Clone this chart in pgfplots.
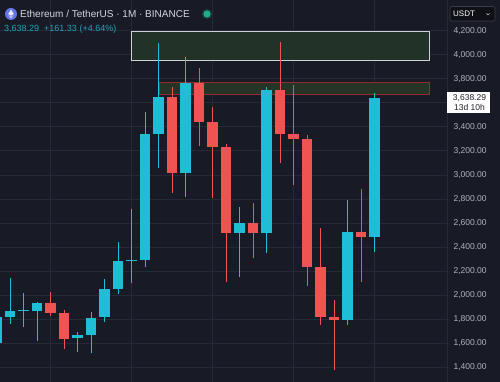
\documentclass[border=0pt]{standalone}
\usepackage{pgfplots}
\usepackage{pgfplotstable}
\pgfplotsset{compat=1.18}
\usepackage{fontspec}
\setmainfont{Liberation Sans}
\definecolor{bg}{RGB}{24,27,37}
\definecolor{gridc}{RGB}{38,42,54}
\definecolor{upc}{RGB}{32,190,214}
\definecolor{dnc}{RGB}{240,84,82}
\definecolor{txt}{RGB}{176,179,189}
\definecolor{titlec}{RGB}{212,214,222}
\definecolor{pricec}{RGB}{38,160,185}
\definecolor{gboxfill}{RGB}{34,50,40}
\definecolor{gboxline}{RGB}{205,208,212}
\definecolor{rboxfill}{RGB}{38,52,40}
\definecolor{rboxline}{RGB}{150,42,48}
\definecolor{labtxt}{RGB}{30,32,40}

\pgfplotstableread{
i o h l c
0 1604 1850 1590 1820
1 1818 2142 1760 1870
2 1866 2020 1737 1874
3 1870 1945 1621 1932
6 1643 1696 1529 1666
7 1668 1862 1516 1812
8 1815 2132 1779 2048
9 2048 2444 2010 2284
10 2282 2716 2098 2290
11 2290 3526 2236 3340
12 3340 4095 3055 3646
14 3014 3984 2819 3762
18 2514 2731 2148 2603
20 2520 3734 2353 3707
26 1793 2791 1751 2528
28 2482 3684 2361 3638.29
}\upcandles

\pgfplotstableread{
i o h l c
4 1932 2028 1826 1854
5 1854 1876 1549 1637
13 3648 3734 2847 3014
15 3762 3887 3243 3438
16 3438 3568 2806 3235
17 3235 3260 2112 2514
19 2603 2769 2306 2514
21 3707 4108 3097 3338
22 3338 3748 2916 3301
23 3301 3330 2076 2236
24 2236 2556 1751 1820
25 1820 1959 1377 1793
27 2528 2880 2112 2481
}\dncandles

\begin{document}
\begin{tikzpicture}
\fill[bg] (0,0) rectangle (500pt,382pt);
\begin{axis}[at={(0pt,0pt)}, anchor=south west, scale only axis,
  width=447pt, height=382pt,
  xmin=0.259, xmax=33.37, ymin=1277, ymax=4455,
  axis line style={draw=none},
  xtick={4,10,16,22,28}, xticklabels={},
  ytick={1400,1600,1800,2000,2200,2400,2600,2800,3000,3200,3400,3800,4000,4200},
  extra y ticks={3600}, extra y tick labels={},
  yticklabel pos=right,
  major tick length=0pt,
  grid=major, grid style={gridc, line width=0.7pt},
  extra tick style={grid=major, grid style={gridc, line width=0.7pt}},
  yticklabel style={anchor=west, xshift=3pt, font=\fontsize{8.5}{10}\selectfont, text=txt},
  /pgf/number format/.cd, fixed, fixed zerofill, precision=2, 1000 sep={,}, assume math mode=true,
]
% zones
\draw[fill=gboxfill, draw=gboxline, line width=0.9pt] (axis cs:10.01,3948) rectangle (axis cs:32.06,4197);
\draw[fill=rboxfill, draw=rboxline, line width=0.9pt] (axis cs:12.06,3671) rectangle (axis cs:32.06,3771);
% wicks
\addplot[draw=upc, line width=0.9pt, mark=none, quiver={u=0, v=\thisrow{h}-\thisrow{l}}]
  table[x=i, y=l] {\upcandles};
\addplot[draw=dnc, line width=0.9pt, mark=none, quiver={u=0, v=\thisrow{h}-\thisrow{l}}]
  table[x=i, y=l] {\dncandles};
% bodies
\addplot[draw=upc, line width=10.5pt, mark=none, quiver={u=0, v=\thisrow{c}-\thisrow{o}}]
  table[x=i, y=o] {\upcandles};
\addplot[draw=dnc, line width=10.5pt, mark=none, quiver={u=0, v=\thisrow{c}-\thisrow{o}}]
  table[x=i, y=o] {\dncandles};
\end{axis}
% header
\fill[color={rgb,255:red,98;green,118;blue,230}] (11pt,368pt) circle (6pt);
\fill[white, opacity=0.85] (11pt,372.5pt) -- (13.8pt,368pt) -- (11pt,366.3pt) -- (8.2pt,368pt) -- cycle;
\fill[white, opacity=0.6] (11pt,365.4pt) -- (13.8pt,367pt) -- (11pt,363.3pt) -- (8.2pt,367pt) -- cycle;
\node[anchor=base west, inner sep=0pt, text=titlec, font=\fontsize{10}{12}\selectfont] at (20pt,364.5pt) {Ethereum / TetherUS · 1M · BINANCE};
\fill[color={rgb,255:red,20;green,70;blue,60}] (207pt,368pt) circle (5pt);
\fill[color={rgb,255:red,34;green,170;blue,140}] (207pt,368pt) circle (3.5pt);
\node[anchor=base west, inner sep=0pt, text=pricec, font=\fontsize{9}{11}\selectfont] at (4pt,350.5pt) {3,638.29 \ +161.33 (+4.64\%)};
% price axis
\draw[gridc, line width=0.6pt] (447pt,0pt) -- (447pt,382pt);
\fill[color={rgb,255:red,14;green,16;blue,22}, draw={rgb,255:red,60;green,63;blue,75}, line width=0.6pt, rounded corners=2pt] (450pt,361pt) rectangle (495pt,375.5pt);
\node[anchor=base west, inner sep=0pt, text=white, font=\fontsize{8}{10}\selectfont] at (453pt,365pt) {USDT};
\draw[txt, line width=0.7pt] (486.5pt,368.5pt) -- (488pt,367pt) -- (489.5pt,368.5pt);
\fill[white] (447pt,269pt) rectangle (490pt,290pt);
\node[anchor=center, inner sep=0pt, align=center, text=labtxt, font=\fontsize{8.5}{9.8}\selectfont] at (469.5pt,279.5pt) {3,638.29\\13d 10h};
\pgfresetboundingbox
\path[use as bounding box] (0,0) rectangle (500pt,382pt);
\end{tikzpicture}
\end{document}
